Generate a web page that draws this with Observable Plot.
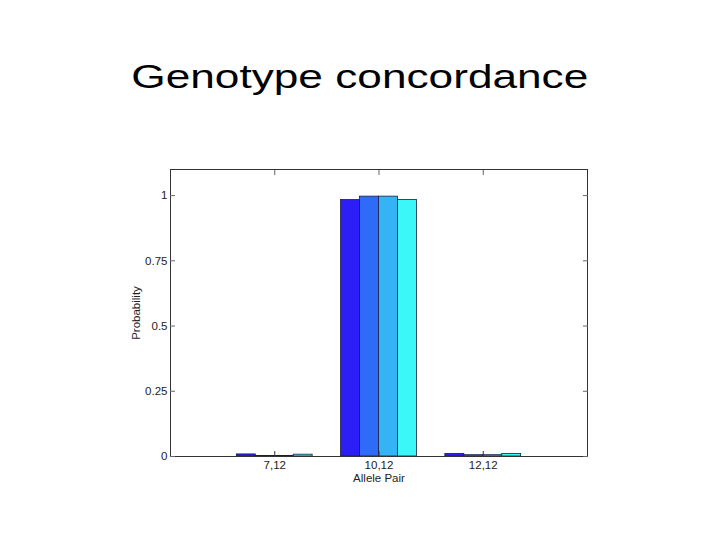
<!DOCTYPE html>
<html>
<head>
<meta charset="utf-8">
<script src="https://cdn.jsdelivr.net/npm/d3@7"></script>
<script src="https://cdn.jsdelivr.net/npm/@observablehq/plot@0.6"></script>
<style>
  body { margin: 0; background: #fff; font-family: "Liberation Sans", Arial, sans-serif; }
  #wrap { position: relative; width: 720px; height: 540px; overflow: hidden; }
  #title { position: absolute; left: 0; top: 59px; width: 720px; text-align: center;
           font-size: 34px; line-height: 34px; color: #000; }
  #title span { display: inline-block; transform: scaleX(1.3); transform-origin: center; }
  #chart { position: absolute; left: 0; top: 130px; }
</style>
</head>
<body>
<div id="wrap">
  <div id="title"><span>Genotype concordance</span></div>
  <div id="chart"></div>
</div>
<script>
const categories = ["7,12", "10,12", "12,12"];
const seriesNames = ["A", "B", "C", "D"];
const series1 = [0.008, 0.983, 0.010];
const series2 = [0.002, 0.996, 0.005];
const series3 = [0.002, 0.996, 0.005];
const series4 = [0.007, 0.983, 0.010];
const seriesColors = ["#2b1ff5", "#2e6cf7", "#35b4f5", "#3cf7f7"];
const yTicks = [0, 0.25, 0.5, 0.75, 1];
const yTickLabels = ["0", "0.25", "0.5", "0.75", "1"];

const allSeries = [series1, series2, series3, series4];
const nS = allSeries.length;
const groupWidth = Math.min(0.8, nS / (nS + 1.5));
const barW = groupWidth / nS;
const data = [];
categories.forEach((c, i) => {
  allSeries.forEach((s, j) => {
    const center = (i + 1) - groupWidth / 2 + barW * (j + 0.5);
    data.push({cat: c, series: seriesNames[j], value: s[i], x1: center - barW / 2, x2: center + barW / 2});
  });
});

const chart = Plot.plot({
  width: 720,
  height: 410,
  marginLeft: 170,
  marginRight: 133,
  marginTop: 39,
  marginBottom: 84,
  style: {fontFamily: "'Liberation Sans', Arial, sans-serif", fontSize: "11.5px", color: "#222", background: "transparent"},
  x: {domain: [0, categories.length + 1]},
  y: {domain: [0, 1.1]},
  color: {domain: seriesNames, range: seriesColors},
  marks: [
    Plot.rectY(data, {x1: "x1", x2: "x2", y1: 0, y2: "value", fill: "series", stroke: "#1b1b40", strokeWidth: 0.8}),
    Plot.frame({stroke: "#333", strokeWidth: 1}),
    Plot.axisY({ticks: yTicks, tickFormat: (d) => yTickLabels[yTicks.indexOf(d)], tickSize: -5, tickPadding: 8, label: null, stroke: "#666"}),
    Plot.axisY({anchor: "right", ticks: yTicks, tickFormat: () => "", tickSize: -5, label: null, stroke: "#666"}),
    Plot.axisX({ticks: d3.range(1, categories.length + 1), tickFormat: (d) => categories[d - 1], tickSize: -5, tickPadding: 9, label: null, stroke: "#333"}),
    Plot.axisX({anchor: "top", ticks: d3.range(1, categories.length + 1), tickFormat: () => "", tickSize: -5, label: null, stroke: "#666"}),
    Plot.text(["Allele Pair"], {frameAnchor: "bottom", dy: 25, fontSize: 11.5, fill: "#222"}),
    Plot.text(["Probability"], {frameAnchor: "left", textAnchor: "middle", dx: -34, rotate: -90, fontSize: 11.5, fill: "#222"})
  ]
});
document.getElementById("chart").appendChild(chart);
</script>
</body>
</html>
